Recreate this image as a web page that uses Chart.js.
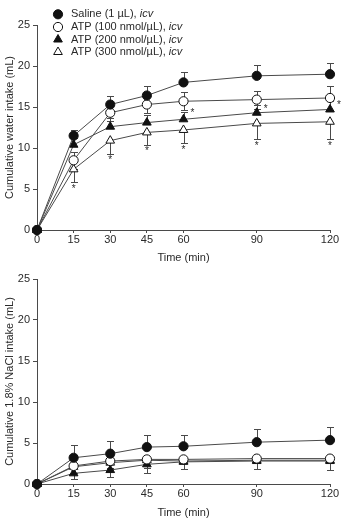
<!DOCTYPE html>
<html>
<head>
<meta charset="utf-8">
<script src="https://cdn.jsdelivr.net/npm/chart.js@4"></script>
<style>
html, body { margin: 0; padding: 0; background: #fff; overflow: hidden; }
#wrap { position: relative; width: 341px; height: 518px; }
canvas { position: absolute; left: 0; }
#water { top: 0; }
#nacl { top: 266px; }
</style>
</head>
<body>
<div id="wrap">
  <canvas id="water" width="341" height="266"></canvas>
  <canvas id="nacl" width="341" height="252"></canvas>
</div>
<script>
// time points (min) and x tick labels
const times = [0, 15, 30, 45, 60, 90, 120];
const xTicks = [0, 15, 30, 45, 60, 90, 120];
const yTicks = [0, 5, 10, 15, 20, 25];

const seriesNames = ['Saline (1 µL), ', 'ATP (100 nmol/µL), ', 'ATP (200 nmol/µL), ', 'ATP (300 nmol/µL), '];
const routeLabel = 'icv';

// water intake (mL), means and SEM
const waterSaline = [0, 11.5, 15.3, 16.4, 18.0, 18.8, 19.0];
const waterSalineErr = [0, 0.7, 1.0, 1.2, 1.3, 1.3, 1.4];
const waterAtp100 = [0, 8.5, 14.3, 15.3, 15.7, 15.9, 16.1];
const waterAtp100Err = [0, 1.0, 1.0, 1.0, 1.1, 1.1, 1.5];
const waterAtp200 = [0, 10.4, 12.6, 13.1, 13.5, 14.3, 14.7];
const waterAtp200Err = [0, 0.8, 1.0, 0.9, 0.9, 1.0, 1.0];
const waterAtp300 = [0, 7.4, 10.9, 11.9, 12.2, 13.0, 13.2];
const waterAtp300Err = [0, 1.6, 1.6, 1.5, 1.6, 1.9, 2.1];

// significance marks: under ATP300 bars, and next to ATP100 (time, value)
const waterStarsAtp300 = [15, 30, 45, 60, 90, 120];
const waterStarsAtp100 = [[60, 14.5], [90, 15.0], [120, 15.5]];

// 1.8% NaCl intake (mL), means and SEM
const naclSaline = [0, 3.2, 3.7, 4.5, 4.6, 5.1, 5.35];
const naclSalineErr = [0, 1.5, 1.5, 1.5, 1.4, 1.55, 1.55];
const naclAtp100 = [0, 2.2, 2.8, 3.0, 3.0, 3.1, 3.1];
const naclAtp100Err = [0, 0.8, 0.9, 1.0, 1.2, 1.3, 1.4];
const naclAtp200 = [0, 1.3, 1.7, 2.4, 2.7, 2.8, 2.8];
const naclAtp200Err = [0, 0.7, 0.9, 1.0, 0.9, 1.0, 1.1];
const naclAtp300 = [0, 2.1, 2.6, 2.9, 2.8, 2.9, 2.9];
const naclAtp300Err = [0, 0.7, 0.8, 0.9, 1.0, 1.1, 1.2];

const FONT = '"Liberation Sans", Arial, Helvetica, sans-serif';
const TEXT = '#2a2a2a';
const LINE = '#4a4a4a';

const markers = [
    { style: 'circle', fill: '#111', radius: 4.6 },
    { style: 'circle', fill: '#fff', radius: 4.6 },
    { style: 'triangle', fill: '#111', radius: 5 },
    { style: 'triangle', fill: '#fff', radius: 5 }
];

function makeDataset(i, values, err, dir) {
    return {
        data: times.map((t, k) => ({ x: t, y: values[k] })),
        err: err,
        dir: dir,
        borderColor: LINE,
        borderWidth: 1,
        pointStyle: markers[i].style,
        pointRadius: markers[i].radius,
        pointBackgroundColor: markers[i].fill,
        pointBorderColor: '#111',
        pointBorderWidth: 1,
        tension: 0,
        clip: false
    };
}

const errorBars = {
    id: 'errorBars',
    beforeDatasetsDraw(chart) {
        const { ctx, scales: { x, y } } = chart;
        ctx.save();
        ctx.strokeStyle = LINE;
        ctx.lineWidth = 1;
        chart.data.datasets.forEach(ds => {
            ds.err.forEach((e, i) => {
                if (!e) return;
                const p = ds.data[i];
                const px = Math.round(x.getPixelForValue(p.x)) + 0.5;
                let ends = [p.y - e];
                if (ds.dir === 'up') ends = [p.y + e];
                if (ds.dir === 'both') ends = [p.y + e, p.y - e];
                ends.forEach(end => {
                    const py0 = y.getPixelForValue(p.y);
                    const py1 = Math.round(y.getPixelForValue(end)) + 0.5;
                    ctx.beginPath();
                    ctx.moveTo(px, py0);
                    ctx.lineTo(px, py1);
                    ctx.moveTo(px - 3.5, py1);
                    ctx.lineTo(px + 3.5, py1);
                    ctx.stroke();
                });
            });
        });
        ctx.restore();
    }
};

const stars = {
    id: 'stars',
    afterDatasetsDraw(chart, args, opts) {
        if (!opts.below) return;
        const { ctx, scales: { x, y } } = chart;
        ctx.save();
        ctx.fillStyle = TEXT;
        ctx.font = '10px ' + FONT;
        ctx.textAlign = 'center';
        ctx.textBaseline = 'middle';
        const ds = chart.data.datasets[3];
        opts.below.forEach(t => {
            const i = times.indexOf(t);
            const v = ds.data[i].y - ds.err[i];
            ctx.fillText('*', x.getPixelForValue(t), y.getPixelForValue(v) + 7);
        });
        opts.beside.forEach(([t, v]) => {
            ctx.fillText('*', x.getPixelForValue(t) + 9, y.getPixelForValue(v) + 2);
        });
        ctx.restore();
    }
};

const legend = {
    id: 'figLegend',
    afterDraw(chart, args, opts) {
        if (!opts.show) return;
        const ctx = chart.ctx;
        ctx.save();
        const rows = [14.3, 27, 39.5, 52];
        rows.forEach((ry, i) => {
            const m = markers[i];
            ctx.fillStyle = m.fill;
            ctx.strokeStyle = '#111';
            ctx.lineWidth = 1;
            Chart.helpers.drawPoint(ctx, { pointStyle: m.style, radius: m.radius, borderWidth: 1 }, 58, ry);
            ctx.fillStyle = TEXT;
            ctx.textBaseline = 'middle';
            ctx.textAlign = 'left';
            ctx.font = '11px ' + FONT;
            ctx.fillText(seriesNames[i], 71, ry);
            const w = ctx.measureText(seriesNames[i]).width;
            ctx.font = 'italic 11px ' + FONT;
            ctx.fillText(routeLabel, 71 + w, ry);
        });
        ctx.restore();
    }
};

function makeChart(id, sets, yTitle, layout, showLegend, starOpts) {
    return new Chart(document.getElementById(id), {
        type: 'line',
        data: { datasets: sets },
        plugins: [errorBars, stars, legend],
        options: {
            responsive: false,
            animation: false,
            events: [],
            layout: { padding: { left: 0, right: 11, top: layout.top, bottom: 0 } },
            plugins: {
                legend: { display: false },
                tooltip: { enabled: false },
                figLegend: { show: showLegend },
                stars: starOpts
            },
            scales: {
                x: {
                    type: 'linear',
                    min: 0,
                    max: 120,
                    afterBuildTicks: scale => { scale.ticks = xTicks.map(v => ({ value: v })); },
                    afterFit: scale => { scale.height = layout.xh; },
                    grid: { display: true, drawOnChartArea: false, drawTicks: true, tickLength: 3, color: LINE },
                    border: { display: true, color: LINE, width: 1 },
                    ticks: { color: TEXT, font: { family: FONT, size: 11, lineHeight: 1 }, padding: 1, maxRotation: 0 },
                    title: { display: true, text: 'Time (min)', color: TEXT, font: { family: FONT, size: 11, lineHeight: 1 }, padding: { top: 0, bottom: layout.titlePad } }
                },
                y: {
                    min: 0,
                    max: 25,
                    afterBuildTicks: scale => { scale.ticks = yTicks.map(v => ({ value: v })); },
                    afterFit: scale => { scale.width = 37; },
                    grid: { display: true, drawOnChartArea: false, drawTicks: true, tickLength: 4, color: LINE },
                    border: { display: true, color: LINE, width: 1 },
                    ticks: { color: TEXT, font: { family: FONT, size: 11 }, padding: 3 },
                    title: { display: true, text: yTitle, color: TEXT, font: { family: FONT, size: 11, lineHeight: 1 }, padding: { top: 4.5, bottom: 0 } }
                }
            }
        }
    });
}

makeChart('water', [
    makeDataset(0, waterSaline, waterSalineErr, 'up'),
    makeDataset(1, waterAtp100, waterAtp100Err, 'both'),
    makeDataset(2, waterAtp200, waterAtp200Err, 'up'),
    makeDataset(3, waterAtp300, waterAtp300Err, 'down')
], 'Cumulative water intake (mL)', { top: 25, xh: 36, titlePad: 3 }, true,
   { below: waterStarsAtp300, beside: waterStarsAtp100 });

makeChart('nacl', [
    makeDataset(0, naclSaline, naclSalineErr, 'up'),
    makeDataset(1, naclAtp100, naclAtp100Err, 'down'),
    makeDataset(2, naclAtp200, naclAtp200Err, 'down'),
    makeDataset(3, naclAtp300, naclAtp300Err, 'down')
], 'Cumulative 1.8% NaCl intake (mL)', { top: 13, xh: 34, titlePad: 0 }, false,
   { below: null, beside: [] });
</script>
</body>
</html>
